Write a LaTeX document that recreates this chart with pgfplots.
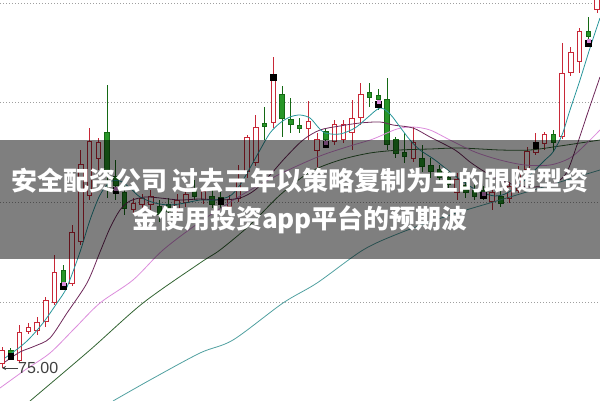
\documentclass[border=0pt]{standalone}
\usepackage{pgfplots}
\pgfplotsset{compat=1.18}
\usepackage{pgfplotstable}
\usetikzlibrary{arrows.meta}
\usepackage{fontspec}
\setmainfont{Liberation Sans}
\newfontfamily\cjk{Noto Sans CJK SC}

\definecolor{upred}{RGB}{200,40,55}
\definecolor{dnout}{RGB}{20,105,20}
\definecolor{dnin}{RGB}{40,150,40}
\definecolor{maA}{RGB}{40,150,155}
\definecolor{maB}{RGB}{110,40,90}
\definecolor{maC}{RGB}{220,140,220}
\definecolor{maD}{RGB}{50,100,50}
\definecolor{maE}{RGB}{80,160,160}

% candles, in screen rows: hi = wick top, bt/bb = body top/bottom, lo = wick bottom
\pgfplotstableread{
x hi bt bb lo
2 347 350 363 368
19.5 325 332 360 362
28.25 323 327 331 334
37 317 322 330 335
45.75 297 300 321 327
54.5 255 272 302 305
72 225 233 283 286
80.75 150 165 242 245
89.5 128 142 195 200
98.25 138 142 158 170
133.25 198 204 210 214
142 194 199 205 212
150.75 190 196 204 210
177 194 200 208 212
185.75 188 195 203 207
203.25 186 192 200 204
229.5 195 200 207 212
238.25 165 180 198 202
247 135 138 172 178
255.75 115 128 163 166
273.25 57 80 123 128
308.25 101 122 129 140
317 133 140 150 170
334.5 120 125 142 145
343.25 120 125 140 143
352 100 119 133 150
360.75 83 95 118 125
413.25 127 142 158 162
457 173 180 193 200
492 188 193 202 210
509.5 182 186 198 203
518.25 166 172 190 193
527 147 152 170 172
535.75 133 147 152 155
544.5 132 135 144 150
562 43 74 137 139
570.75 47 53 73 76
579.5 28 32 62 73
597 -5 -5 10 13
}\upc

\pgfplotstableread{
x hi bt bb lo
10.75 348 350 354 360
63.25 265 270 282 287
107 85 133 170 198
115.75 160 176 185 200
124.5 180 192 208 215
159.5 200 207 215 222
168.25 198 205 212 218
194.5 180 188 196 200
212 190 196 204 208
220.75 192 197 203 208
264.5 107 124 127 140
282 86 95 119 137
290.75 98 120 125 133
299.5 118 126 129 133
325.75 128 132 140 142
369.5 83 93 98 107
378.25 89 96 100 110
387 78 100 145 150
395.75 137 140 153 158
404.5 133 152 156 163
422 145 158 166 172
430.75 158 165 171 178
439.5 165 170 178 183
448.25 172 178 185 190
465.75 180 185 192 198
474.5 184 190 196 200
483.25 186 190 193 200
500.75 190 196 203 207
553.25 130 135 143 152
588.25 17 32 37 47
}\dnc

\begin{document}
\begin{tikzpicture}
\useasboundingbox (0,0) rectangle (600pt,401pt);
\begin{axis}[
    width=600pt, height=401pt, scale only axis,
    xmin=0, xmax=600, ymin=0, ymax=401, y dir=reverse,
    axis line style={draw=none},
    xtick=\empty,
    ytick={3,102.5,202.5,302.5}, yticklabels={},
    major tick length=0pt,
    ymajorgrids,
    grid style={gray!75, line width=0.8pt, dash pattern=on 1.1pt off 1.9pt},
    clip=true,
    candle/.style={draw=none, mark=none, error bars/.cd, y dir=both, y explicit, error mark=none},
]
% wicks
\addplot[candle, error bar style={draw=upred, line width=1pt}]
    table[x=x, y expr={(\thisrow{hi}+\thisrow{lo})/2}, y error expr={(\thisrow{lo}-\thisrow{hi})/2}] {\upc};
\addplot[candle, error bar style={draw=dnout, line width=1pt}]
    table[x=x, y expr={(\thisrow{hi}+\thisrow{lo})/2}, y error expr={(\thisrow{lo}-\thisrow{hi})/2}] {\dnc};
% bodies
\addplot[candle, error bar style={draw=upred, line width=5.5pt}]
    table[x=x, y expr={(\thisrow{bt}+\thisrow{bb})/2}, y error expr={(\thisrow{bb}-\thisrow{bt})/2+0.5}] {\upc};
\addplot[candle, error bar style={draw=white, line width=3.5pt}]
    table[x=x, y expr={(\thisrow{bt}+\thisrow{bb})/2}, y error expr={max((\thisrow{bb}-\thisrow{bt})/2-0.5,0)}] {\upc};
\addplot[candle, error bar style={draw=dnout, line width=5.5pt}]
    table[x=x, y expr={(\thisrow{bt}+\thisrow{bb})/2}, y error expr={(\thisrow{bb}-\thisrow{bt})/2+0.5}] {\dnc};
\addplot[candle, error bar style={draw=dnin, line width=3.5pt}]
    table[x=x, y expr={(\thisrow{bt}+\thisrow{bb})/2}, y error expr={max((\thisrow{bb}-\thisrow{bt})/2-0.5,0)}] {\dnc};

% moving averages
\addplot[smooth, maE, line width=0.8pt] coordinates {
(113,401) (150,380) (200,353) (233,340) (283,303) (317,283) (363,250) (400,233)
(450,215) (500,200) (550,185) (600,170)};
\addplot[smooth, maD, line width=0.8pt] coordinates {
(30,401) (90,350) (143,303) (200,263) (220,250) (250,225) (280,195) (310,172)
(340,160) (370,153) (400,150) (430,149) (460,148) (500,150) (530,150) (560,146) (600,140)};
\addplot[smooth, maC, line width=0.8pt] coordinates {
(0,388) (25,370) (50,353) (75,328) (100,303) (133,280) (163,250) (200,222) (240,196)
(280,174) (320,156) (350,146) (373,139) (397,129) (413,127) (430,130) (450,140)
(475,152) (500,160) (525,165) (550,165) (570,158) (585,145) (600,130)};
\addplot[smooth, maB, line width=0.8pt] coordinates {
(5,362) (20,352) (35,346) (50,338) (67,313) (87,283) (100,252) (110,228) (120,210)
(130,201) (145,197) (160,198) (180,200) (200,199) (220,200) (240,198) (255,190)
(270,175) (285,158) (303,140) (320,130) (340,126) (360,123) (380,122) (393,125)
(413,128) (430,137) (455,150) (470,162) (485,172) (500,180) (515,185) (530,187)
(545,186) (557,182) (567,172) (577,145) (588,112) (600,77)};
\addplot[smooth, maA, line width=0.8pt] coordinates {
(5,358) (20,347) (30,338) (43,323) (57,303) (67,287) (80,252) (90,220) (100,195)
(110,182) (120,181) (130,188) (140,197) (155,203) (170,205) (185,203) (200,200)
(215,200) (230,196) (240,185) (250,168) (260,150) (270,133) (280,123) (290,117)
(300,115) (310,118) (318,127) (325,133) (340,134) (355,128) (367,118) (380,108)
(390,114) (400,127) (410,140) (420,150) (435,160) (450,172) (465,183) (480,192)
(495,196) (505,194) (515,188) (527,178) (537,168) (545,160) (553,152) (562,135)
(570,110) (580,80) (590,48) (600,18)};

% signal markers
\addplot[only marks, mark=square*, mark size=2.8pt, mark options={draw=black, fill=black}] coordinates {
(10.75,356) (63.25,286) (115.75,190) (220.75,201) (273.25,77) (325.75,144)
(378.25,104) (483.25,195) (535.75,145) (588.25,43)};
\addplot[only marks, mark=square*, mark size=1.5pt, mark options={draw=maC, fill=maC}] coordinates {
(63.25,284) (115.75,188.5) (378.25,102) (588.25,41) (325.75,143) (483.25,194)};
\end{axis}

% caption band over the chart
\fill[black, opacity=0.5] (0,142pt) rectangle (600pt,261pt);
\node[anchor=base, text=white, inner sep=0pt, font=\cjk\bfseries\fontsize{26}{30}\selectfont]
  at (300pt,210.5pt) {安全配资公司 过去三年以策略复制为主的跟随型资};
\node[anchor=base, text=white, inner sep=0pt, font=\cjk\bfseries\fontsize{26}{30}\selectfont]
  at (300pt,172pt) {金使用投资app平台的预期波};

% low-price marker
\draw[-{Stealth[length=4pt,width=4pt]}, black!75, line width=0.6pt] (18pt,33pt) -- (2pt,33pt);
\node[anchor=base west, inner sep=0pt, text=black!75, font=\fontsize{16}{18}\selectfont] at (18pt,27pt) {75.00};
\end{tikzpicture}
\end{document}
